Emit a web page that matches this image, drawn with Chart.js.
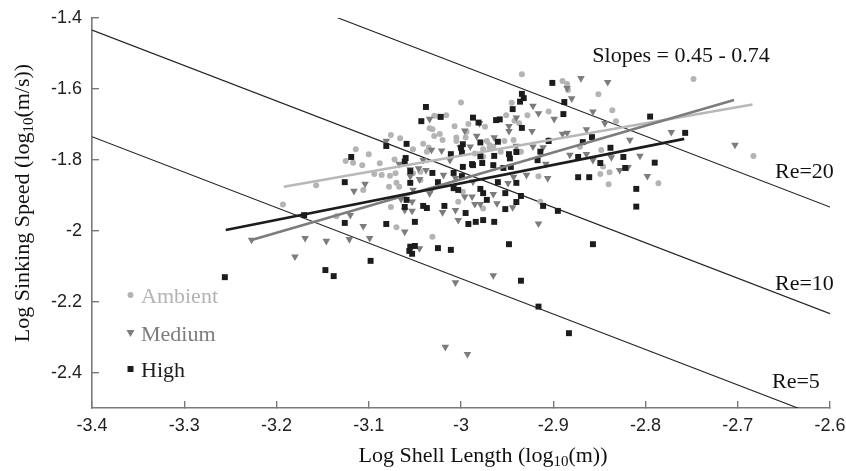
<!DOCTYPE html>
<html lang="en">
<head>
<meta charset="UTF-8">
<title>Log sinking speed vs log shell length</title>
<script src="https://cdn.jsdelivr.net/npm/chart.js"></script>
<style>
  body { margin: 0; background: #fff; }
  #wrap { width: 846px; height: 471px; }
</style>
</head>
<body>
<div id="wrap"><canvas id="speedChart" width="846" height="471"></canvas></div>
<script>
// axis ticks
const xTicks = [-3.4, -3.3, -3.2, -3.1, -3, -2.9, -2.8, -2.7, -2.6];
const yTicks = [-2.4, -2.2, -2, -1.8, -1.6, -1.4];

// groups (legend order)
const groupNames = ['Ambient', 'Medium', 'High'];

// [log10 shell length, log10 sinking speed]
const ambientPts = [
  [-3.193,-1.926],[-3.157,-1.872],[-3.135,-1.959],[-3.125,-1.803],[-3.117,-1.808],[-3.114,-1.770],
  [-3.107,-1.815],[-3.106,-1.885],[-3.100,-1.784],[-3.094,-1.840],[-3.088,-1.810],[-3.086,-1.843],
  [-3.077,-1.845],[-3.078,-1.876],[-3.076,-1.730],[-3.076,-1.933],[-3.072,-1.799],[-3.071,-1.838],
  [-3.070,-1.865],[-3.070,-1.990],[-3.067,-1.876],[-3.066,-1.739],[-3.052,-1.838],[-3.052,-1.770],
  [-3.044,-1.834],[-3.044,-1.857],[-3.041,-1.755],[-3.037,-1.777],[-3.035,-1.765],[-3.034,-1.711],
  [-3.031,-1.714],[-3.031,-2.017],[-3.029,-1.676],[-3.029,-1.733],[-3.024,-1.678],[-3.023,-1.727],
  [-3.020,-1.744],[-3.016,-1.674],[-3.007,-1.705],[-3.005,-1.737],[-3.005,-1.747],[-3.003,-1.918],
  [-3.000,-1.638],[-2.998,-1.890],[-2.995,-1.737],[-2.994,-1.721],[-2.992,-1.699],[-2.985,-1.782],
  [-2.976,-1.791],[-2.976,-1.770],[-2.976,-1.937],[-2.974,-1.707],[-2.972,-1.747],[-2.969,-1.758],
  [-2.969,-1.765],[-2.965,-1.763],[-2.957,-1.777],[-2.953,-1.747],[-2.951,-1.674],[-2.945,-1.639],
  [-2.943,-1.744],[-2.942,-1.690],[-2.940,-1.772],[-2.937,-1.697],[-2.935,-1.777],[-2.934,-1.559],
  [-2.928,-1.674],[-2.916,-1.846],[-2.914,-1.918],[-2.905,-1.664],[-2.905,-1.744],[-2.890,-1.578],
  [-2.885,-1.586],[-2.884,-1.603],[-2.871,-1.763],[-2.851,-1.615],[-2.849,-1.840],[-2.848,-1.772],
  [-2.846,-1.819],[-2.840,-1.869],[-2.839,-1.835],[-2.838,-1.786],[-2.836,-1.660],[-2.832,-1.691],
  [-2.786,-1.866],[-2.748,-1.572],[-2.683,-1.789]
];
const mediumPts = [
  [-3.227,-2.026],[-3.180,-2.073],[-3.169,-2.021],[-3.146,-2.029],[-3.121,-2.024],[-3.120,-1.956],
  [-3.116,-1.888],[-3.106,-1.987],[-3.104,-1.868],[-3.099,-2.021],[-3.081,-1.747],[-3.067,-1.812],
  [-3.065,-1.911],[-3.061,-2.003],[-3.061,-1.942],[-3.055,-1.827],[-3.055,-1.846],[-3.053,-1.918],
  [-3.052,-1.885],[-3.053,-1.944],[-3.046,-1.824],[-3.045,-2.050],[-3.045,-1.855],[-3.041,-1.801],
  [-3.038,-1.829],[-3.034,-1.685],[-3.034,-1.895],[-3.032,-1.772],[-3.032,-1.885],[-3.021,-1.774],
  [-3.020,-1.948],[-3.019,-1.843],[-3.017,-2.328],[-3.012,-1.801],[-3.006,-2.146],[-3.006,-1.942],
  [-3.006,-1.852],[-3.003,-1.970],[-3.001,-1.765],[-2.996,-1.718],[-2.996,-1.904],[-2.993,-2.348],
  [-2.990,-1.763],[-2.988,-1.904],[-2.987,-1.862],[-2.985,-1.925],[-2.983,-1.733],[-2.980,-1.697],
  [-2.979,-1.925],[-2.965,-2.126],[-2.965,-1.897],[-2.964,-1.737],[-2.961,-1.923],[-2.949,-1.866],
  [-2.948,-1.705],[-2.948,-1.719],[-2.944,-1.934],[-2.943,-1.848],[-2.940,-1.681],[-2.940,-1.761],
  [-2.929,-1.843],[-2.923,-1.719],[-2.922,-1.648],[-2.922,-1.763],[-2.916,-1.669],[-2.916,-1.980],
  [-2.911,-1.765],[-2.908,-1.812],[-2.906,-1.852],[-2.899,-1.685],[-2.890,-1.727],[-2.885,-1.598],
  [-2.885,-1.724],[-2.882,-1.786],[-2.880,-1.627],[-2.870,-1.570],[-2.864,-1.714],[-2.864,-1.784],
  [-2.857,-1.664],[-2.857,-1.801],[-2.844,-1.697],[-2.841,-1.581],[-2.837,-1.793],[-2.828,-1.829],
  [-2.819,-1.821],[-2.817,-1.744],[-2.806,-1.789],[-2.798,-1.846],[-2.772,-1.722],[-2.703,-1.758]
];
const highPts = [
  [-3.256,-2.131],[-3.170,-1.956],[-3.147,-2.111],[-3.138,-2.128],[-3.126,-1.863],[-3.126,-1.978],
  [-3.119,-1.792],[-3.098,-2.085],[-3.081,-1.761],[-3.081,-1.981],[-3.061,-1.933],[-3.061,-1.805],
  [-3.060,-1.795],[-3.059,-1.755],[-3.059,-1.913],[-3.055,-1.865],[-3.055,-1.832],[-3.055,-2.045],
  [-3.050,-2.043],[-3.056,-2.057],[-3.053,-2.065],[-3.050,-1.975],[-3.043,-1.691],[-3.041,-1.930],
  [-3.038,-1.651],[-3.037,-1.936],[-3.031,-1.837],[-3.025,-1.863],[-3.025,-2.049],[-3.022,-1.679],
  [-3.018,-1.930],[-3.011,-1.784],[-3.011,-2.054],[-3.008,-1.880],[-3.008,-1.837],[-3.003,-1.885],
  [-2.999,-1.846],[-2.999,-1.780],[-2.998,-1.756],[-2.998,-1.820],[-3.000,-1.766],[-2.995,-1.950],
  [-2.992,-1.981],[-2.988,-1.812],[-2.987,-1.681],[-2.987,-1.815],[-2.984,-1.975],[-2.981,-1.695],
  [-2.979,-1.751],[-2.979,-1.790],[-2.979,-1.882],[-2.977,-1.809],[-2.976,-1.894],[-2.976,-1.970],
  [-2.972,-1.913],[-2.965,-1.815],[-2.964,-1.789],[-2.964,-1.975],[-2.962,-1.688],[-2.960,-1.863],
  [-2.958,-1.686],[-2.960,-1.749],[-2.954,-1.823],[-2.952,-1.939],[-2.952,-1.894],[-2.948,-1.784],
  [-2.947,-1.796],[-2.948,-2.038],[-2.946,-1.820],[-2.944,-1.657],[-2.940,-1.778],[-2.940,-1.919],
  [-2.940,-1.865],[-2.935,-1.902],[-2.935,-2.141],[-2.934,-1.614],[-2.932,-1.626],[-2.936,-1.636],
  [-2.934,-1.710],[-2.917,-1.801],[-2.916,-2.214],[-2.914,-1.777],[-2.911,-1.930],[-2.905,-1.747],
  [-2.901,-1.583],[-2.895,-1.944],[-2.888,-1.637],[-2.889,-1.671],[-2.883,-2.289],[-2.873,-1.849],
  [-2.873,-1.792],[-2.868,-1.750],[-2.861,-1.849],[-2.858,-1.736],[-2.857,-2.038],[-2.849,-1.809],
  [-2.838,-1.766],[-2.824,-1.792],[-2.822,-1.823],[-2.810,-1.882],[-2.810,-1.932],[-2.795,-1.678],
  [-2.790,-1.808],[-2.757,-1.724]
];

// fitted regression lines (end points)
const ambientFit = [[-3.192, -1.876], [-2.684, -1.644]];
const mediumFit = [[-3.227, -2.026], [-2.704, -1.631]];
const highFit = [[-3.255, -1.998], [-2.758, -1.741]];

// constant Reynolds number lines (slope -1)
const reNames = ['Re=20', 'Re=10', 'Re=5'];
const reLines = [
  [[-3.4, -1.133], [-2.6, -1.933]],
  [[-3.4, -1.434], [-2.6, -2.234]],
  [[-3.4, -1.735], [-2.6, -2.535]]
];
const slopeNote = 'Slopes = 0.45 - 0.74';

const SERIF = '"Liberation Serif", "Times New Roman", serif';
const SANS = '"Liberation Sans", Arial, sans-serif';
const AMB = '#b4b4b4', MED = '#7c7c7c', HIGH = '#1c1c1c', AXIS = '#7a7a7a';

const toXY = pts => pts.map(([x, y]) => ({ x, y }));

function drawMarker(ctx, shape, x, y, color) {
  ctx.fillStyle = color;
  ctx.beginPath();
  if (shape === 'circle') {
    ctx.arc(x, y, 3, 0, Math.PI * 2);
  } else if (shape === 'triangle') {
    ctx.moveTo(x - 4, y - 3);
    ctx.lineTo(x + 4, y - 3);
    ctx.lineTo(x, y + 4);
    ctx.closePath();
  } else {
    ctx.rect(x - 3, y - 3, 6, 6);
  }
  ctx.fill();
}

// text with a "10" subscript; parts = [[text, isSub], ...]
function drawSubText(ctx, parts, x, y, size) {
  const fontFor = sub => (sub ? Math.round(size * 0.66) : size) + 'px ' + SERIF;
  const widths = parts.map(([t, sub]) => { ctx.font = fontFor(sub); return ctx.measureText(t).width; });
  let cx = x - widths.reduce((a, b) => a + b, 0) / 2;
  ctx.textAlign = 'left';
  parts.forEach(([t, sub], i) => {
    ctx.font = fontFor(sub);
    ctx.fillText(t, cx, sub ? y + size * 0.18 : y);
    cx += widths[i];
  });
}

const decor = {
  id: 'decor',
  afterDraw(chart) {
    const { ctx, chartArea: a, scales: { x, y } } = chart;
    ctx.save();
    ctx.fillStyle = '#111';
    ctx.textBaseline = 'alphabetic';

    // annotations
    ctx.font = '22px ' + SERIF;
    ctx.textAlign = 'center';
    ctx.fillText(slopeNote, x.getPixelForValue(-2.7615), y.getPixelForValue(-1.524));
    ctx.textAlign = 'left';
    const reAt = [[-2.6596, -1.851], [-2.6596, -2.167], [-2.6629, -2.443]];
    reNames.forEach((t, i) => ctx.fillText(t, x.getPixelForValue(reAt[i][0]), y.getPixelForValue(reAt[i][1])));

    // legend, lower left inside the plot
    const shapes = ['circle', 'triangle', 'square'];
    const colors = [AMB, MED, HIGH];
    const rowY = [277, 315, 351];
    groupNames.forEach((name, i) => {
      const cy = a.top + rowY[i];
      drawMarker(ctx, shapes[i], a.left + 38.5, cy, colors[i]);
      ctx.fillStyle = colors[i];
      ctx.font = '22px ' + SERIF;
      ctx.textAlign = 'left';
      ctx.fillText(name, a.left + 49, cy + 7.5);
    });

    // axis titles
    ctx.fillStyle = '#111';
    drawSubText(ctx, [['Log Shell Length (log', false], ['10', true], ['(m))', false]], 483, 462, 22);
    ctx.translate(29, 203);
    ctx.rotate(-Math.PI / 2);
    drawSubText(ctx, [['Log Sinking Speed (log', false], ['10', true], ['(m/s))', false]], 0, 0, 22);
    ctx.restore();
  }
};

const lineSet = (data, color, width) => ({
  type: 'line', data: toXY(data), showLine: true, borderColor: color, borderWidth: width,
  pointRadius: 0, fill: false, tension: 0
});

const fmt = v => String(Math.round(v * 10) / 10);

new Chart(document.getElementById('speedChart'), {
  type: 'scatter',
  data: {
    datasets: [
      lineSet(highFit, HIGH, 2.6),
      lineSet(mediumFit, MED, 2.6),
      lineSet(ambientFit, '#b8b8b8', 2.6),
      { label: groupNames[2], data: toXY(highPts), pointStyle: 'rect', pointRadius: 4.2,
        backgroundColor: HIGH, borderWidth: 0 },
      { label: groupNames[1], data: toXY(mediumPts), pointStyle: 'triangle', pointRotation: 180,
        pointRadius: 4.4, backgroundColor: MED, borderWidth: 0 },
      { label: groupNames[0], data: toXY(ambientPts), pointStyle: 'circle', pointRadius: 3,
        backgroundColor: AMB, borderWidth: 0 },
      ...reLines.map(l => lineSet(l, '#222', 1.1))
    ]
  },
  options: {
    responsive: false,
    animation: false,
    devicePixelRatio: 1,
    layout: { padding: { top: 18, right: 16, left: 0, bottom: 0 } },
    plugins: { legend: { display: false }, tooltip: { enabled: false } },
    scales: {
      x: {
        type: 'linear', min: -3.4, max: -2.6,
        afterBuildTicks: s => { s.ticks = xTicks.map(v => ({ value: v })); },
        afterFit: s => { s.height = 63; s.paddingLeft = 0; s.paddingRight = 0; },
        border: { display: true, color: AXIS, width: 1.6 },
        grid: { drawOnChartArea: false, drawTicks: true, tickLength: -7, color: AXIS, lineWidth: 1.4 },
        ticks: { padding: 14, color: '#222', font: { family: SANS, size: 18 }, callback: fmt, maxRotation: 0 }
      },
      y: {
        type: 'linear', min: -2.5, max: -1.4,
        afterBuildTicks: s => { s.ticks = yTicks.map(v => ({ value: v })); },
        afterFit: s => { s.width = 92; s.paddingTop = 0; s.paddingBottom = 0; },
        border: { display: true, color: AXIS, width: 1.6 },
        grid: { drawOnChartArea: false, drawTicks: true, tickLength: -7, color: AXIS, lineWidth: 1.4 },
        ticks: { padding: 17, color: '#222', font: { family: SANS, size: 18 }, callback: fmt }
      }
    }
  },
  plugins: [decor]
});
</script>
</body>
</html>
